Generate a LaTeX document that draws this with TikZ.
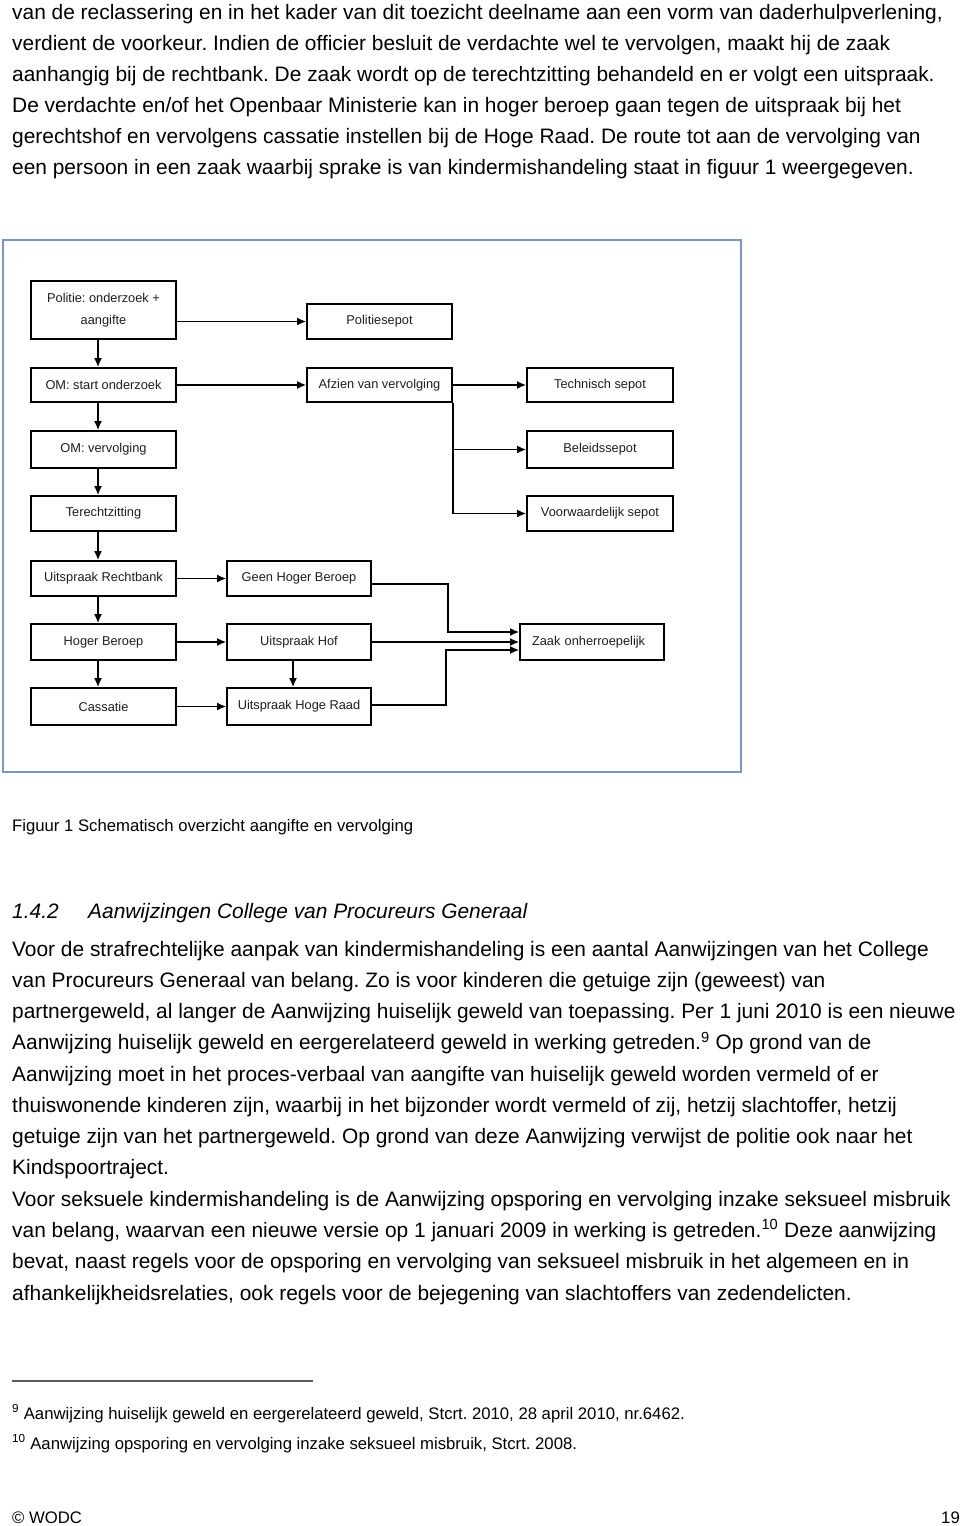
\documentclass[tikz,border=0pt]{standalone}
\usepackage{fontspec}
\setmainfont{Liberation Sans}
\usetikzlibrary{arrows.meta}
\frenchspacing
\definecolor{framecol}{RGB}{120,150,200}
\definecolor{boxtext}{RGB}{30,30,30}
\definecolor{rulecol}{RGB}{90,90,90}
\tikzset{
  bodytext/.style={anchor=base west, inner sep=0pt, font=\fontsize{20.9}{31}\selectfont},
  smalltext/.style={anchor=base west, inner sep=0pt, font=\fontsize{16.7}{20}\selectfont},
  headtext/.style={anchor=base west, inner sep=0pt, font=\fontsize{20.9}{31}\selectfont\itshape},
  flowbox/.style={draw=black, line width=1.7pt, fill=white, inner sep=0pt,
    minimum width=145pt, minimum height=35pt, text=boxtext,
    font=\fontsize{12.8}{22.6}\selectfont, align=center},
  conn/.style={draw=black, line width=1.7pt, -{Latex[length=9pt,width=8pt]}},
  plainconn/.style={draw=black, line width=1.7pt},
}
\begin{document}
\begin{tikzpicture}[x=1pt,y=-1pt]
\useasboundingbox (0,0) rectangle (960,1526);
\fill[white] (0,0) rectangle (960,1526);

% ---------- top paragraph ----------
\node[bodytext] (t1) at (12,19) {van de reclassering en in het kader van dit toezicht deelname aan een vorm van daderhulpverlening,};
\node[bodytext] (t2) at (12,50) {verdient de voorkeur. Indien de officier besluit de verdachte wel te vervolgen, maakt hij de zaak};
\node[bodytext] (t3) at (12,81) {aanhangig bij de rechtbank. De zaak wordt op de terechtzitting behandeld en er volgt een uitspraak.};
\node[bodytext] (t4) at (12,112) {De verdachte en/of het Openbaar Ministerie kan in hoger beroep gaan tegen de uitspraak bij het};
\node[bodytext] (t5) at (12,143) {gerechtshof en vervolgens cassatie instellen bij de Hoge Raad. De route tot aan de vervolging van};
\node[bodytext] (t6) at (12,174) {een persoon in een zaak waarbij sprake is van kindermishandeling staat in figuur 1 weergegeven.};

% ---------- figure frame ----------
\draw[framecol, line width=1.8pt] (3,240) rectangle (741,772);

% ---------- boxes ----------
\node[flowbox, minimum height=58pt] (pol) at (103.5,310) {Politie: onderzoek +\\aangifte};
\node[flowbox] (polsep) at (379.5,321.5) {Politiesepot};
\node[flowbox, minimum height=34pt] (omstart) at (103.5,385) {OM: start onderzoek};
\node[flowbox, minimum height=34pt] (afzien) at (379.5,385) {Afzien van vervolging};
\node[flowbox, minimum height=34pt, minimum width=146pt] (techn) at (600,385) {Technisch sepot};
\node[flowbox, minimum height=37pt] (omverv) at (103.5,449.5) {OM: vervolging};
\node[flowbox, minimum height=37pt, minimum width=146pt] (beleid) at (600,449.5) {Beleidssepot};
\node[flowbox] (terecht) at (103.5,513.5) {Terechtzitting};
\node[flowbox, minimum width=146pt] (voorw) at (600,513.5) {Voorwaardelijk sepot};
\node[flowbox] (uitrb) at (103.5,578.5) {Uitspraak Rechtbank};
\node[flowbox, minimum width=144pt] (geenhb) at (299,578.5) {Geen Hoger Beroep};
\node[flowbox, minimum height=36pt] (hogerb) at (103.5,642) {Hoger Beroep};
\node[flowbox, minimum height=36pt, minimum width=144pt] (hof) at (299,642) {Uitspraak Hof};
\node[flowbox, minimum height=36pt, minimum width=144pt, align=left, text width=120pt] (zaak) at (592,642) {Zaak onherroepelijk};
\node[flowbox, minimum height=37pt] (cass) at (103.5,706.5) {Cassatie};
\node[flowbox, minimum height=37pt, minimum width=144pt] (uhr) at (299,706.5) {Uitspraak Hoge Raad};

\coordinate (colA) at (98,0);
\coordinate (colB) at (293,0);
\coordinate (bendA) at (448,0);
\coordinate (bendB) at (446,0);

% ---------- connectors ----------
\draw[conn] (polsep.west -| pol.east) -- (polsep.west);
\draw[conn] (pol.south -| colA) -- (omstart.north -| colA);
\draw[conn] (omstart.east) -- (afzien.west);
\draw[conn] (afzien.east) -- (techn.west);
\draw[plainconn] (afzien.south east) -- (afzien.east |- voorw.west);
\draw[conn] (afzien.east |- beleid.west) -- (beleid.west);
\draw[conn] (afzien.east |- voorw.west) -- (voorw.west);
\draw[conn] (omstart.south -| colA) -- (omverv.north -| colA);
\draw[conn] (omverv.south -| colA) -- (terecht.north -| colA);
\draw[conn] (terecht.south -| colA) -- (uitrb.north -| colA);
\draw[conn] (uitrb.east) -- (geenhb.west);
\draw[conn] (uitrb.south -| colA) -- (hogerb.north -| colA);
\draw[conn] (hogerb.east) -- (hof.west);
\draw[conn] (hogerb.south -| colA) -- (cass.north -| colA);
\draw[conn] (cass.east) -- (uhr.west);
\draw[conn] (hof.south -| colB) -- (uhr.north -| colB);
\draw[conn] ([yshift=-5.5pt]geenhb.east) -| ([yshift=10pt]bendA |- zaak.west) -- ([yshift=10pt]zaak.west);
\draw[conn] (hof.east) -- (zaak.west);
\draw[conn] ([yshift=1.5pt]uhr.east) -| ([yshift=-8pt]bendB |- zaak.west) -- ([yshift=-8pt]zaak.west);

% ---------- caption ----------
\node[smalltext] (cap) at (12,831) {Figuur 1 Schematisch overzicht aangifte en vervolging};

% ---------- heading ----------
\node[headtext] (hnum) at (12,918) {1.4.2};
\node[headtext] (htitle) at (88,918) {Aanwijzingen College van Procureurs Generaal};

% ---------- second paragraph ----------
\node[bodytext] (p1) at (12,956) {Voor de strafrechtelijke aanpak van kindermishandeling is een aantal Aanwijzingen van het College};
\node[bodytext] (p2) at (12,987.3) {van Procureurs Generaal van belang. Zo is voor kinderen die getuige zijn (geweest) van};
\node[bodytext] (p3) at (12,1018.5) {partnergeweld, al langer de Aanwijzing huiselijk geweld van toepassing. Per 1 juni 2010 is een nieuwe};
\node[bodytext] (p4) at (12,1049.8) {Aanwijzing huiselijk geweld en eergerelateerd geweld in werking getreden.\textsuperscript{9} Op grond van de};
\node[bodytext] (p5) at (12,1081.1) {Aanwijzing moet in het proces-verbaal van aangifte van huiselijk geweld worden vermeld of er};
\node[bodytext] (p6) at (12,1112.4) {thuiswonende kinderen zijn, waarbij in het bijzonder wordt vermeld of zij, hetzij slachtoffer, hetzij};
\node[bodytext] (p7) at (12,1143.6) {getuige zijn van het partnergeweld. Op grond van deze Aanwijzing verwijst de politie ook naar het};
\node[bodytext] (p8) at (12,1174.9) {Kindspoortraject.};
\node[bodytext] (p9) at (12,1206.2) {Voor seksuele kindermishandeling is de Aanwijzing opsporing en vervolging inzake seksueel misbruik};
\node[bodytext] (p10) at (12,1237.4) {van belang, waarvan een nieuwe versie op 1 januari 2009 in werking is getreden.\textsuperscript{10} Deze aanwijzing};
\node[bodytext] (p11) at (12,1268.7) {bevat, naast regels voor de opsporing en vervolging van seksueel misbruik in het algemeen en in};
\node[bodytext] (p12) at (12,1300) {afhankelijkheidsrelaties, ook regels voor de bejegening van slachtoffers van zedendelicten.};

% ---------- footnotes ----------
\draw[rulecol, line width=1.5pt] (12,1381) -- (313,1381);
\node[smalltext] (fn9) at (12,1419) {\textsuperscript{9} Aanwijzing huiselijk geweld en eergerelateerd geweld, Stcrt. 2010, 28 april 2010, nr.6462.};
\node[smalltext] (fn10) at (12,1449) {\textsuperscript{10} Aanwijzing opsporing en vervolging inzake seksueel misbruik, Stcrt. 2008.};

% ---------- footer ----------
\node[smalltext] (foot) at (12,1523) {© WODC};
\node[smalltext, anchor=base east] (page) at (960,1523) {19};
\end{tikzpicture}
\end{document}
